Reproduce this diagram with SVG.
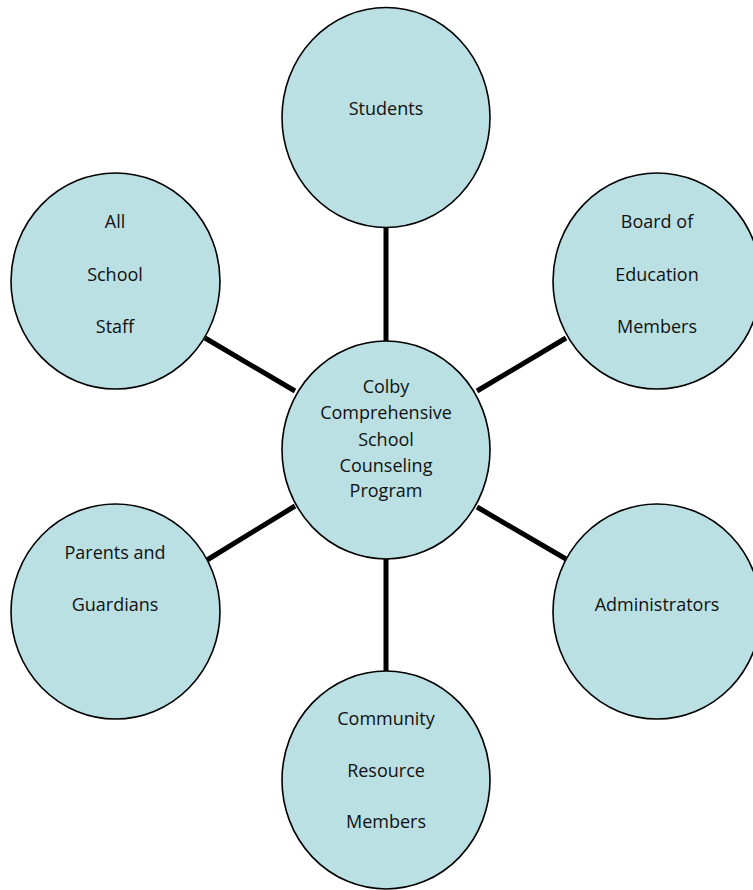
<svg xmlns="http://www.w3.org/2000/svg" width="753" height="890" viewBox="0 0 753 890">
<style>
.n{fill:#BAE0E3;stroke:#000;stroke-width:1.6}
.t{font-family:"Open Sans","Noto Sans","Liberation Sans",sans-serif;font-size:18px;fill:#111;text-anchor:middle}
.c{stroke:#000;stroke-width:5;stroke-linecap:butt}
</style>
<rect width="753" height="890" fill="#fff"/>
<g id="connectors">
<line class="c" x1="386" y1="228" x2="386" y2="341"/>
<line class="c" x1="386" y1="559" x2="386" y2="671"/>
<line class="c" x1="205" y1="338" x2="295" y2="391"/>
<line class="c" x1="566" y1="338" x2="477" y2="391"/>
<line class="c" x1="207" y1="560" x2="295" y2="506"/>
<line class="c" x1="566" y1="559" x2="477" y2="507"/>
</g>
<g id="students">
<ellipse class="n" cx="386" cy="117.5" rx="104" ry="110"/>
<text class="t" x="386" y="115">Students</text>
</g>
<g id="staff">
<ellipse class="n" cx="115.5" cy="281" rx="104.5" ry="108"/>
<text class="t" x="115" y="228">All</text>
<text class="t" x="115" y="280.5">School</text>
<text class="t" x="115" y="333">Staff</text>
</g>
<g id="board">
<ellipse class="n" cx="657" cy="281" rx="104" ry="108"/>
<text class="t" x="657" y="228">Board of</text>
<text class="t" x="657" y="280.5">Education</text>
<text class="t" x="657" y="332.5">Members</text>
</g>
<g id="center">
<ellipse class="n" cx="386" cy="450" rx="104" ry="109"/>
<text class="t" x="386" y="393">Colby</text>
<text class="t" x="386" y="419">Comprehensive</text>
<text class="t" x="386" y="446">School</text>
<text class="t" x="386" y="472">Counseling</text>
<text class="t" x="386" y="497">Program</text>
</g>
<g id="parents">
<ellipse class="n" cx="115.5" cy="611.5" rx="104.5" ry="107.5"/>
<text class="t" x="115" y="559">Parents and</text>
<text class="t" x="115" y="611">Guardians</text>
</g>
<g id="administrators">
<ellipse class="n" cx="657" cy="611.5" rx="104" ry="107.5"/>
<text class="t" x="657" y="611">Administrators</text>
</g>
<g id="community">
<ellipse class="n" cx="386" cy="780" rx="104" ry="109"/>
<text class="t" x="386" y="725">Community</text>
<text class="t" x="386" y="777">Resource</text>
<text class="t" x="386" y="828">Members</text>
</g>
</svg>
